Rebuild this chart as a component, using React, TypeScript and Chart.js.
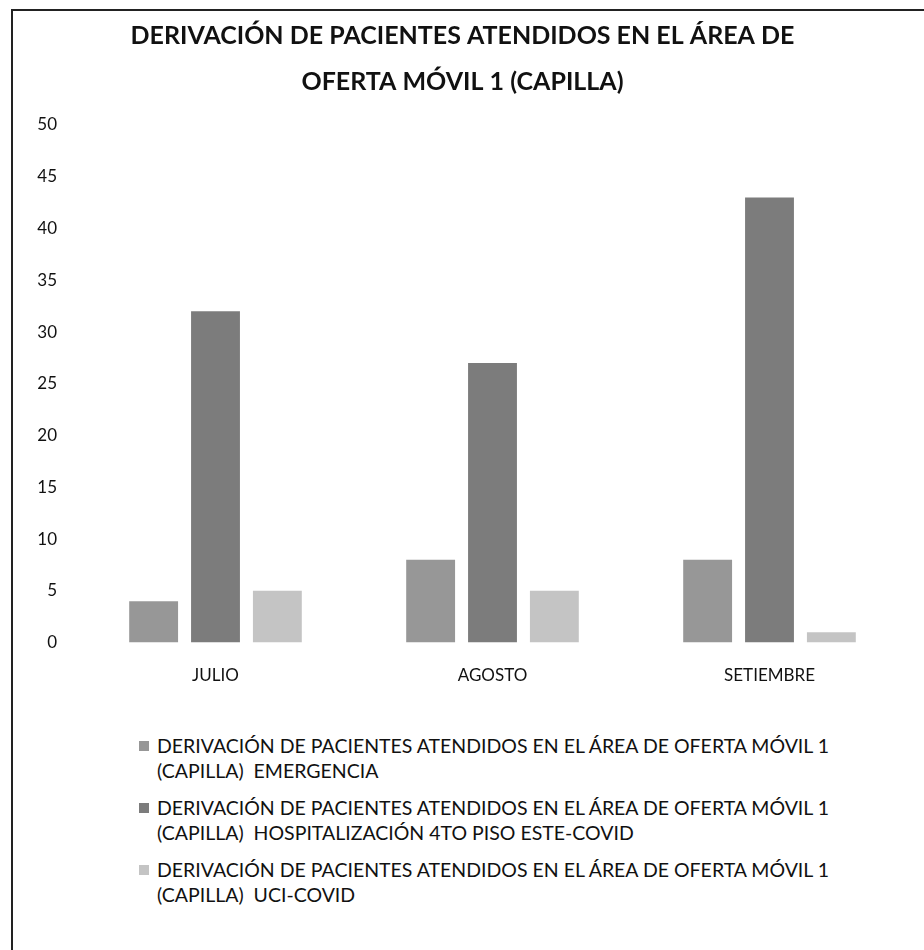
import React, { useEffect, useRef } from "react";
import { Chart, registerables } from "chart.js";

Chart.register(...registerables);

const titleLines = [
  "DERIVACIÓN DE PACIENTES ATENDIDOS EN EL ÁREA DE",
  "OFERTA MÓVIL 1 (CAPILLA)",
];
const categories = ["JULIO", "AGOSTO", "SETIEMBRE"];
const seriesLabels = [
  "DERIVACIÓN DE PACIENTES ATENDIDOS EN EL ÁREA DE OFERTA MÓVIL 1 (CAPILLA)  EMERGENCIA",
  "DERIVACIÓN DE PACIENTES ATENDIDOS EN EL ÁREA DE OFERTA MÓVIL 1 (CAPILLA)  HOSPITALIZACIÓN 4TO PISO ESTE-COVID",
  "DERIVACIÓN DE PACIENTES ATENDIDOS EN EL ÁREA DE OFERTA MÓVIL 1 (CAPILLA)  UCI-COVID",
];
const emergencia = [4, 8, 8];
const hospitalizacion = [32, 27, 43];
const uciCovid = [5, 5, 1];
const seriesColors = ["#979797", "#7c7c7c", "#c4c4c4"];
const yTicks = [0, 5, 10, 15, 20, 25, 30, 35, 40, 45, 50];

const FONT = "Lato, 'Open Sans', sans-serif";

export default function App() {
  const canvasRef = useRef<HTMLCanvasElement | null>(null);

  useEffect(() => {
    if (!canvasRef.current) return;
    const values = [emergencia, hospitalizacion, uciCovid];
    const chart = new Chart(canvasRef.current, {
      type: "bar",
      data: {
        labels: categories,
        datasets: values.map((v, i) => ({
          label: seriesLabels[i],
          data: v,
          backgroundColor: seriesColors[i],
          borderWidth: 0,
          categoryPercentage: 0.67,
          barPercentage: 0.79,
        })),
      },
      options: {
        animation: false,
        responsive: true,
        maintainAspectRatio: false,
        layout: { padding: { left: 17, right: 16, top: 0, bottom: 5 } },
        plugins: {
          legend: { display: false },
          tooltip: { enabled: false },
          title: {
            display: true,
            text: titleLines,
            color: "#111",
            font: { family: FONT, size: 25, weight: "bold", lineHeight: 1.84 },
            padding: { top: 13, bottom: 20 },
          },
        },
        scales: {
          x: {
            grid: { display: false, drawTicks: false },
            border: { display: false },
            ticks: {
              color: "#111",
              font: { family: FONT, size: 17 },
              padding: 23,
            },
          },
          y: {
            min: 0,
            max: 50,
            afterFit: (scale: any) => {
              scale.width = 60;
            },
            afterBuildTicks: (scale: any) => {
              scale.ticks = yTicks.map((v) => ({ value: v }));
            },
            grid: { display: false, drawTicks: false },
            border: { display: false },
            ticks: {
              color: "#111",
              font: { family: FONT, size: 17 },
              padding: 20,
            },
          },
        },
      },
    });
    return () => chart.destroy();
  }, []);

  return (
    <div
      style={{
        position: "absolute",
        left: 0,
        top: 0,
        width: 924,
        height: 950,
        background: "#fff",
        overflow: "hidden",
        fontFamily: FONT,
      }}
    >
      <div
        style={{
          position: "absolute",
          left: 11,
          top: 9,
          width: 940,
          height: 960,
          borderLeft: "2px solid #222",
          borderTop: "2px solid #222",
        }}
      />
      <div style={{ position: "absolute", left: 0, top: 0, width: 924, height: 714 }}>
        <canvas ref={canvasRef} />
      </div>
      <div style={{ position: "absolute", left: 139, top: 733 }}>
        {seriesLabels.map((lab, i) => (
          <div
            key={i}
            style={{ display: "flex", alignItems: "flex-start", marginBottom: 12 }}
          >
            <div
              style={{
                width: 10,
                height: 10,
                background: seriesColors[i],
                marginTop: 8,
                marginRight: 8,
                flex: "0 0 auto",
              }}
            />
            <div
              style={{
                width: 740,
                fontSize: 19.5,
                lineHeight: "25px",
                color: "#111",
                whiteSpace: "pre-wrap",
              }}
            >
              {lab}
            </div>
          </div>
        ))}
      </div>
    </div>
  );
}
